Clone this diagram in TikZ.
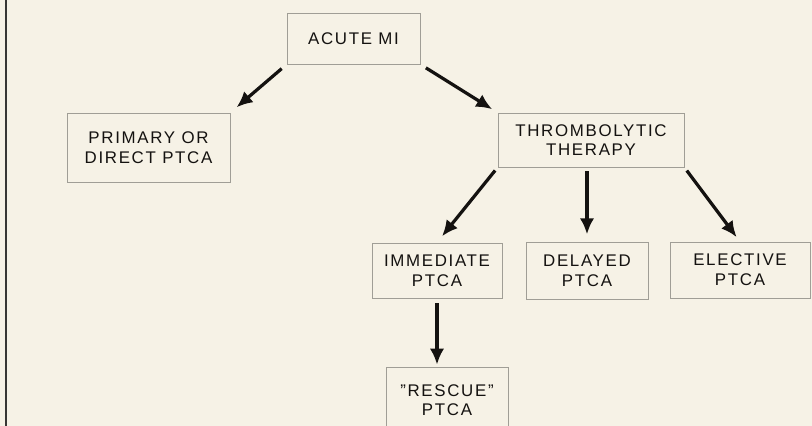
\documentclass[tikz,border=0pt]{standalone}
\usepackage{fontspec}
\setmainfont{Liberation Sans}[LetterSpace=10]
\usetikzlibrary{arrows.meta}
\definecolor{paper}{RGB}{246,242,230}
\definecolor{boxline}{RGB}{160,158,150}
\definecolor{ink}{RGB}{20,18,16}

\begin{document}
\begin{tikzpicture}[x=0.025cm, y=-0.025cm, >=Latex,
  every node/.style={font=\fontsize{12}{14}\selectfont, text=ink},
  stage/.style={rectangle, draw=boxline, line width=0.5pt, align=center, inner sep=1pt},
  go/.style={-{Latex[length=4mm, width=3.6mm]}, ink, line width=2.3pt}]
  \fill[paper] (0,0) rectangle (812,426);
  \useasboundingbox (0,0) rectangle (812,426);
  \draw[ink!85, line width=1.4pt] (6,0) -- (6,426);
  \node[stage, minimum width=3.33cm, minimum height=1.28cm] (acute) at (353.5,38.5) {ACUTE MI};
  \node[stage, minimum width=4.08cm, minimum height=1.73cm] (primary) at (148.5,147.5) {PRIMARY OR\\DIRECT PTCA};
  \node[stage, minimum width=4.65cm, minimum height=1.35cm] (thromb) at (591,140) {THROMBOLYTIC\\THERAPY};
  \node[stage, minimum width=3.25cm, minimum height=1.38cm] (immed) at (437,270.5) {IMMEDIATE\\PTCA};
  \node[stage, minimum width=3.05cm, minimum height=1.43cm] (delay) at (587,270.5) {DELAYED\\PTCA};
  \node[stage, minimum width=3.5cm, minimum height=1.4cm] (elect) at (740,270) {ELECTIVE\\PTCA};
  \node[stage, minimum width=3.05cm, minimum height=2.2cm, text depth=0.55cm] (rescue) at (447,411) {"RESCUE"\\PTCA};
  \draw[go, shorten <=0.16cm, shorten >=0.2cm] (acute.south west) -- (primary.north east);
  \draw[go, shorten <=0.16cm, shorten >=0.16cm] (acute.south east) -- (thromb.north west);
  \draw[go, shorten <=0.1cm, shorten >=0.2cm] (thromb.south west) -- (immed.north);
  \draw[go, shorten <=0.1cm, shorten >=0.18cm] (thromb.south -| delay.north) -- (delay.north);
  \draw[go, shorten <=0.1cm, shorten >=0.14cm] (thromb.south east) -- (elect.north);
  \draw[go, shorten <=0.12cm, shorten >=0.05cm] (immed.south) -- (immed.south |- rescue.north);
\end{tikzpicture}
\end{document}
